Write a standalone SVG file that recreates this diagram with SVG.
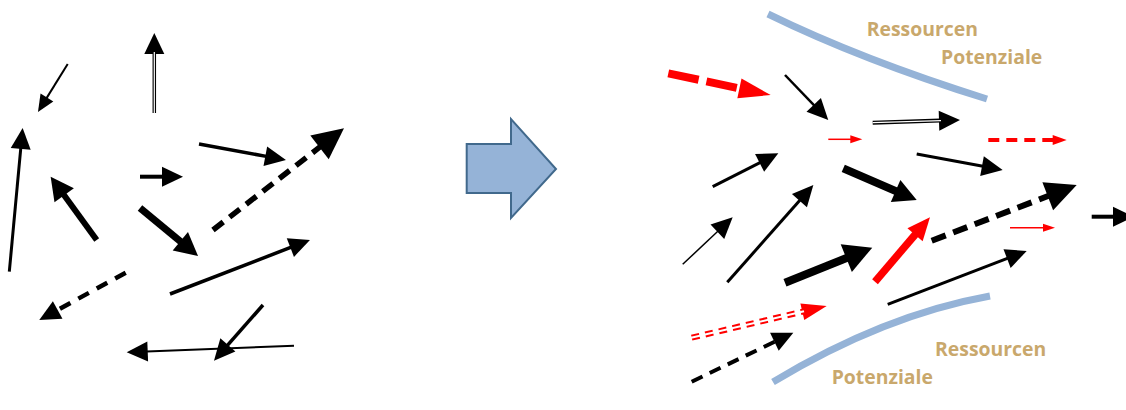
<svg xmlns="http://www.w3.org/2000/svg" width="1126" height="410" viewBox="0 0 1126 410">
<style>
.a{fill:none;stroke:#000;stroke-linecap:butt}
.r{fill:none;stroke:#ff0000;stroke-linecap:butt}
.w{fill:none;stroke:#fff}
.band{fill:none;stroke:#95b3d7;stroke-width:7}
.lbl{font-family:"Open Sans","Liberation Sans",sans-serif;font-weight:bold;font-size:19.4px;fill:#c9a86c}
</style>
<defs>
<marker id="mk16" markerUnits="userSpaceOnUse" markerWidth="40" markerHeight="40" refX="0" refY="0" orient="auto" overflow="visible"><path d="M-1,-7.5 L16,0 L-1,7.5 z" fill="#000"/></marker>
<marker id="mk20" markerUnits="userSpaceOnUse" markerWidth="40" markerHeight="40" refX="0" refY="0" orient="auto" overflow="visible"><path d="M-1,-10 L20,0 L-1,10 z" fill="#000"/></marker>
<marker id="mk22" markerUnits="userSpaceOnUse" markerWidth="40" markerHeight="40" refX="0" refY="0" orient="auto" overflow="visible"><path d="M-1,-12 L22,0 L-1,12 z" fill="#000"/></marker>
<marker id="mk27" markerUnits="userSpaceOnUse" markerWidth="40" markerHeight="40" refX="0" refY="0" orient="auto" overflow="visible"><path d="M-1,-15 L27,0 L-1,15 z" fill="#000"/></marker>
<marker id="mk30" markerUnits="userSpaceOnUse" markerWidth="40" markerHeight="40" refX="0" refY="0" orient="auto" overflow="visible"><path d="M-1,-15 L30,0 L-1,15 z" fill="#000"/></marker>
<marker id="r31" markerUnits="userSpaceOnUse" markerWidth="40" markerHeight="40" refX="0" refY="0" orient="auto" overflow="visible"><path d="M-1,-10 L31,0 L-1,10 z" fill="#ff0000"/></marker>
<marker id="r24" markerUnits="userSpaceOnUse" markerWidth="40" markerHeight="40" refX="0" refY="0" orient="auto" overflow="visible"><path d="M-1,-8.5 L24,0 L-1,8.5 z" fill="#ff0000"/></marker>
<marker id="r22" markerUnits="userSpaceOnUse" markerWidth="40" markerHeight="40" refX="0" refY="0" orient="auto" overflow="visible"><path d="M-1,-10 L22,0 L-1,10 z" fill="#ff0000"/></marker>
<marker id="r13" markerUnits="userSpaceOnUse" markerWidth="40" markerHeight="40" refX="0" refY="0" orient="auto" overflow="visible"><path d="M-1,-5 L13,0 L-1,5 z" fill="#ff0000"/></marker>
<marker id="r11" markerUnits="userSpaceOnUse" markerWidth="40" markerHeight="40" refX="0" refY="0" orient="auto" overflow="visible"><path d="M-1,-4 L11,0 L-1,4 z" fill="#ff0000"/></marker>
</defs>

<g id="connectors">
  <!-- left side: scattered arrows -->
  <path class="a" d="M67.7,64 L46.4,98.4" stroke-width="2" marker-end="url(#mk16)"/>
  <path class="a" d="M154.3,113 L154.3,53" stroke-width="3.5" marker-end="url(#mk20)"/>
  <path class="w" d="M154.3,113 L154.3,52" stroke-width="1.2"/>
  <path class="a" d="M9.3,271.7 L20.8,147.9" stroke-width="3" marker-end="url(#mk20)"/>
  <path class="a" d="M96.7,240 L63.6,194.5" stroke-width="6" marker-end="url(#mk22)"/>
  <path class="a" d="M140,176.7 L163,176.7" stroke-width="4" marker-end="url(#mk20)"/>
  <path class="a" d="M199,144 L266.3,156.4" stroke-width="3.5" marker-end="url(#mk20)"/>
  <path class="a" d="M213,230 L320.3,146.7" stroke-width="5.5" stroke-dasharray="13 8" marker-end="url(#mk30)"/>
  <path class="a" d="M140,208 L181.1,242" stroke-width="7" marker-end="url(#mk22)"/>
  <path class="a" d="M125.7,272.7 L56.8,310.4" stroke-width="4.5" stroke-dasharray="12 9" marker-end="url(#mk20)"/>
  <path class="a" d="M170,294 L291.3,247.2" stroke-width="3.5" marker-end="url(#mk20)"/>
  <path class="a" d="M263,305 L227.2,345.7" stroke-width="3.5" marker-end="url(#mk20)"/>
  <path class="a" d="M294,345.7 L146.7,351.5" stroke-width="2" marker-end="url(#mk20)"/>

  <!-- right side: aligned arrows -->
  <path class="r" d="M668.3,73.3 L740.4,88.6" stroke-width="8" stroke-dasharray="31 8" marker-end="url(#r31)"/>
  <path class="a" d="M785,75 L814.4,105.6" stroke-width="2.5" marker-end="url(#mk20)"/>
  <path class="r" d="M828.3,139.3 L851.3,139.3" stroke-width="1.5" marker-end="url(#r11)"/>
  <path class="a" d="M872.7,122.7 L940,120.6" stroke-width="4" marker-end="url(#mk20)"/>
  <path class="w" d="M872.7,122.7 L941,120.6" stroke-width="1.2"/>
  <path class="r" d="M988.3,140 L1053.7,140" stroke-width="4" stroke-dasharray="11 7" marker-end="url(#r13)"/>
  <path class="a" d="M712.7,186.7 L760.5,162.4" stroke-width="3" marker-end="url(#mk20)"/>
  <path class="a" d="M916.7,154 L983,166.3" stroke-width="3" marker-end="url(#mk20)"/>
  <path class="a" d="M843.3,168.3 L896.5,191.3" stroke-width="8" marker-end="url(#mk22)"/>
  <path class="a" d="M931.7,240.7 L1048.7,195.8" stroke-width="6" stroke-dasharray="15 8" marker-end="url(#mk30)"/>
  <path class="a" d="M1091.7,216.7 L1114,216.7" stroke-width="4" marker-end="url(#mk20)"/>
  <path class="a" d="M682.7,264.3 L718.1,231" stroke-width="1.5" marker-end="url(#mk20)"/>
  <path class="a" d="M727.3,282.3 L800.1,200" stroke-width="3" marker-end="url(#mk20)"/>
  <path class="a" d="M785,282.7 L847.2,257.7" stroke-width="8" marker-end="url(#mk27)"/>
  <path class="r" d="M875,281.7 L915.7,234" stroke-width="7.5" marker-end="url(#r22)"/>
  <path class="r" d="M1010,227.7 L1044,227.7" stroke-width="1.5" marker-end="url(#r11)"/>
  <path class="a" d="M887.7,304.3 L1008,258.2" stroke-width="3" marker-end="url(#mk20)"/>
  <path class="r" d="M691.7,337.7 L803.3,311.5" stroke-width="6" stroke-dasharray="8 6" marker-end="url(#r24)"/>
  <path class="w" d="M689,338.3 L804,311.3" stroke-width="2"/>
  <path class="a" d="M691.7,381.7 L775.3,341.4" stroke-width="4" stroke-dasharray="12 8" marker-end="url(#mk20)"/>
</g>

<g id="transition-arrow">
  <polygon points="466.7,144 511,144 511,119 556,169 511,218 511,193 466.7,193" fill="#95b3d7" stroke="#41698c" stroke-width="2" stroke-linejoin="miter"/>
</g>

<g id="boundary-top">
  <path class="band" d="M768,14 Q862,60 987,99"/>
  <text class="lbl" x="866.7" y="35.7">Ressourcen</text>
  <text class="lbl" x="941" y="64">Potenziale</text>
</g>

<g id="boundary-bottom">
  <path class="band" d="M773,382 Q884,315 990,296"/>
  <text class="lbl" x="935" y="355.7">Ressourcen</text>
  <text class="lbl" x="831.7" y="384.3">Potenziale</text>
</g>
</svg>
